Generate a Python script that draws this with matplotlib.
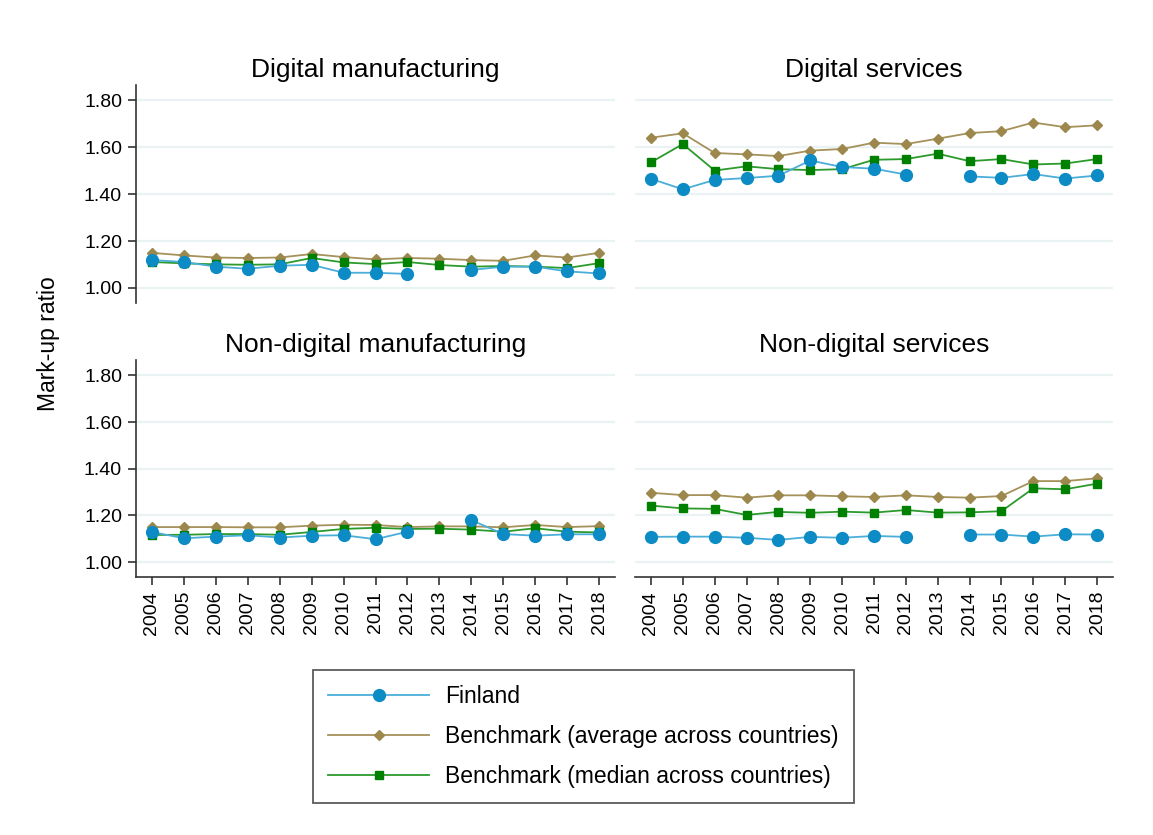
import numpy as np
import matplotlib.pyplot as plt

plt.rcParams['font.family'] = ['Liberation Sans', 'DejaVu Sans']

years = list(range(2004, 2019))
panels = ['Digital manufacturing', 'Digital services',
          'Non-digital manufacturing', 'Non-digital services']
nan = np.nan

# Finland
fin = {
    'Digital manufacturing': [1.119, 1.111, 1.091, 1.082, 1.095, 1.099, 1.065, 1.065, 1.060, nan,
                              1.077, 1.091, 1.091, 1.071, 1.062],
    'Digital services': [1.466, 1.421, 1.461, 1.469, 1.479, 1.544, 1.516, 1.509, 1.484, nan,
                         1.476, 1.470, 1.486, 1.467, 1.480],
    'Non-digital manufacturing': [1.129, 1.102, 1.109, 1.115, 1.105, 1.113, 1.115, 1.098, 1.130, nan,
                                  1.180, 1.120, 1.113, 1.119, 1.119],
    'Non-digital services': [1.108, 1.109, 1.109, 1.104, 1.095, 1.108, 1.104, 1.112, 1.108, nan,
                             1.118, 1.118, 1.109, 1.119, 1.118],
}
# Benchmark, average across countries
avg = {
    'Digital manufacturing': [1.150, 1.139, 1.130, 1.128, 1.130, 1.145, 1.132, 1.122, 1.128, 1.125,
                              1.119, 1.116, 1.139, 1.130, 1.150],
    'Digital services': [1.641, 1.660, 1.576, 1.570, 1.563, 1.586, 1.593, 1.620, 1.614, 1.637,
                         1.661, 1.669, 1.706, 1.686, 1.694],
    'Non-digital manufacturing': [1.150, 1.150, 1.150, 1.149, 1.149, 1.156, 1.160, 1.159, 1.150, 1.153,
                                  1.153, 1.149, 1.159, 1.150, 1.154],
    'Non-digital services': [1.297, 1.287, 1.287, 1.276, 1.286, 1.286, 1.282, 1.279, 1.286, 1.279,
                             1.276, 1.283, 1.347, 1.347, 1.359],
}
# Benchmark, median across countries
med = {
    'Digital manufacturing': [1.111, 1.105, 1.101, 1.099, 1.101, 1.128, 1.109, 1.102, 1.111, 1.098,
                              1.091, 1.094, 1.091, 1.085, 1.106],
    'Digital services': [1.536, 1.614, 1.501, 1.519, 1.507, 1.503, 1.507, 1.547, 1.550, 1.573,
                         1.541, 1.550, 1.527, 1.531, 1.550],
    'Non-digital manufacturing': [1.116, 1.117, 1.120, 1.120, 1.117, 1.129, 1.142, 1.147, 1.142, 1.143,
                                  1.139, 1.130, 1.145, 1.130, 1.127],
    'Non-digital services': [1.242, 1.230, 1.228, 1.202, 1.215, 1.211, 1.216, 1.212, 1.223, 1.212,
                             1.213, 1.218, 1.316, 1.312, 1.336],
}
yticks = [1.00, 1.20, 1.40, 1.60, 1.80]
labels = ['Finland', 'Benchmark (average across countries)', 'Benchmark (median across countries)']

W, H = 1153, 835
fig = plt.figure(figsize=(W / 100, H / 100), dpi=100)

# panel boxes in pixels: left, top, right, bottom
boxes = [(136, 85, 615, 303), (635, 85, 1113, 303),
         (136, 360, 615, 577), (635, 360, 1113, 577)]

axc = '#333333'
handles = None
for k, name in enumerate(panels):
    l, t, r, b = boxes[k]
    ax = fig.add_axes([l / W, 1 - b / H, (r - l) / W, (b - t) / H])
    ax.set_xlim(2003.5, 2018.5)
    ax.set_ylim(0.936, 1.866)
    for yv in yticks:
        ax.axhline(yv, color='#eaf2f4', lw=1.6, zorder=0)
    h1, = ax.plot(years, fin[name], '-o', color='#4aaed9', mfc='#0c8bc4', mec='#0c8bc4',
                  ms=8.5, lw=1.3, zorder=3)
    h2, = ax.plot(years, avg[name], '-D', color='#a5915a', mfc='#9c884c', mec='#9c884c',
                  ms=5, lw=1.3, zorder=2)
    h3, = ax.plot(years, med[name], '-s', color='#2c9a2c', mfc='#008000', mec='#008000',
                  ms=5.5, lw=1.3, zorder=2)
    handles = [h1, h2, h3]
    ax.set_title(name, fontsize=19, pad=6)

    for s in ax.spines.values():
        s.set_visible(False)
    left = k % 2 == 0
    bottom = k >= 2
    if left:
        ax.spines['left'].set_visible(True)
        ax.spines['left'].set_color(axc)
        ax.spines['left'].set_linewidth(1.2)
        ax.set_yticks(yticks)
        ax.set_yticklabels([f'{v:.2f}' for v in yticks])
        ax.tick_params(axis='y', length=6, width=1.2, color=axc, labelsize=14, pad=4)
    else:
        ax.set_yticks([])
    if bottom:
        ax.spines['bottom'].set_visible(True)
        ax.spines['bottom'].set_color(axc)
        ax.spines['bottom'].set_linewidth(1.2)
        ax.set_xticks(years)
        ax.set_xticklabels([str(y) for y in years], rotation=90)
        ax.tick_params(axis='x', length=6, width=1.2, color=axc, labelsize=14, pad=4)
    else:
        ax.set_xticks([])

fig.text(48 / W, 1 - 344 / H, 'Mark-up ratio', rotation=90, fontsize=16.5,
         ha='center', va='center')

leg = fig.legend(handles, labels, loc='center', bbox_to_anchor=(583.5 / W, 1 - 736.5 / H),
                 fontsize=16.5, frameon=True, fancybox=False, handlelength=4.4,
                 handletextpad=0.7, labelspacing=0.75, borderpad=0.65, borderaxespad=0)
leg.get_frame().set_edgecolor('#333333')
leg.get_frame().set_linewidth(1.3)

fig.savefig('out.png', dpi=100, facecolor='white')
